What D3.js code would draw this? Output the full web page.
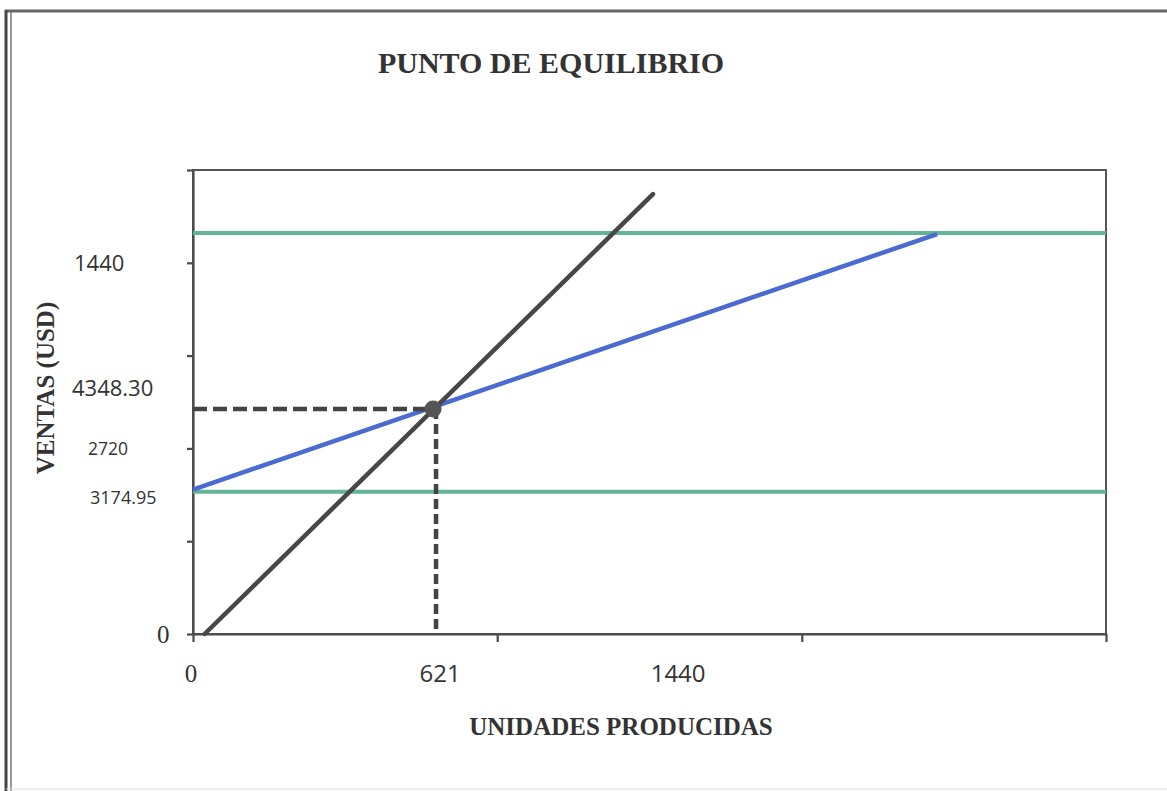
<!DOCTYPE html>
<html>
<head>
<meta charset="utf-8">
<script src="https://cdn.jsdelivr.net/npm/d3@7"></script>
<style>
  body { margin: 0; background: #fff; }
  svg { display: block; }
</style>
</head>
<body>
<div id="chart"></div>
<script>
// values (units on x, USD on y)
var xTicks = [0, 787, 1575, 2362];
var yTicks = [0, 1793, 3587, 5380, 7173, 8967];

var breakEven = [621, 4348.30];

var salesLine = [[30, 0], [1190, 8500]];          // dark line
var totalCostLine = [[0, 2790], [1925, 7730]];    // blue line
var upperLine = [[0, 7750], [2362, 7750]];        // green, top
var fixedCostLine = [[0, 2750], [2362, 2750]];    // green, bottom

var xLabelText = ["0", "621", "1440"];
var xLabelAt = [0, 621, 1255];
var yLabelText = ["1440", "4348.30", "2720", "3174.95", "0"];
var yLabelAt = [7173, 4750, 3587, 2630, 0];

var W = 1167, H = 791;
var margin = { top: 170, right: 61, bottom: 157, left: 193 };

var svg = d3.select('#chart')
    .append('svg')
    .attr('width', W)
    .attr('height', H);

// scanned page frame
svg.append('line').attr('x1', 5).attr('x2', W).attr('y1', 11).attr('y2', 11)
    .attr('stroke', '#666').attr('stroke-width', 3);
svg.append('line').attr('x1', 6).attr('x2', 6).attr('y1', 10).attr('y2', H)
    .attr('stroke', '#444').attr('stroke-width', 3);
svg.append('line').attr('x1', 11).attr('x2', 11).attr('y1', 12).attr('y2', H)
    .attr('stroke', '#777').attr('stroke-width', 1.5);
svg.append('line').attr('x1', 6).attr('x2', W).attr('y1', 789).attr('y2', 789)
    .attr('stroke', '#ddd').attr('stroke-width', 1);

var x = d3.scaleLinear()
    .domain([0, 2362])
    .range([margin.left, W - margin.right]);

var y = d3.scaleLinear()
    .domain([0, 8967])
    .range([H - margin.bottom, margin.top]);

// title
svg.append('text')
    .attr('x', 551)
    .attr('y', 73)
    .attr('text-anchor', 'middle')
    .style('font-family', '"Liberation Serif", "Times New Roman", serif')
    .style('font-weight', 'bold')
    .style('font-size', '30px')
    .style('fill', '#333')
    .text('PUNTO DE EQUILIBRIO');

// plot box (top and right edges)
svg.append('rect')
    .attr('x', x(0))
    .attr('y', y(8967))
    .attr('width', x(2362) - x(0))
    .attr('height', y(0) - y(8967))
    .attr('fill', 'none')
    .attr('stroke', '#555')
    .attr('stroke-width', 2);

var xAxis = svg.append('g')
    .attr('transform', 'translate(0,' + y(0) + ')')
    .call(d3.axisBottom(x).tickValues(xTicks).tickFormat('').tickSize(8).tickSizeOuter(0));

var yAxis = svg.append('g')
    .attr('transform', 'translate(' + x(0) + ',0)')
    .call(d3.axisLeft(y).tickValues(yTicks).tickFormat('').tickSize(6).tickSizeOuter(0));

svg.selectAll('.domain, .tick line')
    .attr('stroke', '#4a4a4a')
    .attr('stroke-width', 2.2);

var line = d3.line()
    .x(d => x(d[0]))
    .y(d => y(d[1]));

svg.append('path').datum(upperLine).attr('d', line)
    .attr('fill', 'none').attr('stroke', '#62b598').attr('stroke-width', 4);
svg.append('path').datum(fixedCostLine).attr('d', line)
    .attr('fill', 'none').attr('stroke', '#62b598').attr('stroke-width', 4);

svg.append('path').datum(totalCostLine).attr('d', line)
    .attr('fill', 'none').attr('stroke', '#4a6bd0').attr('stroke-width', 4.5);

svg.append('path').datum(salesLine).attr('d', line)
    .attr('fill', 'none').attr('stroke', '#474747').attr('stroke-width', 4.5)
    .attr('stroke-linecap', 'round');

// dashed guides to the break-even point
svg.append('line')
    .attr('x1', x(0)).attr('x2', x(breakEven[0]))
    .attr('y1', y(breakEven[1])).attr('y2', y(breakEven[1]))
    .attr('stroke', '#444').attr('stroke-width', 4.5)
    .attr('stroke-dasharray', '14,6');

svg.append('line')
    .attr('x1', x(breakEven[0]) + 3).attr('x2', x(breakEven[0]) + 3)
    .attr('y1', y(breakEven[1])).attr('y2', y(0))
    .attr('stroke', '#444').attr('stroke-width', 4.5)
    .attr('stroke-dasharray', '10,5');

svg.append('circle')
    .attr('cx', x(breakEven[0]))
    .attr('cy', y(breakEven[1]))
    .attr('r', 8.5)
    .attr('fill', '#555');

// axis labels (placed as in the picture)
var sansFont = '"Open Sans", "Liberation Sans", sans-serif';
var serifFont = '"Liberation Serif", "Times New Roman", serif';

var xLabelStyle = [
    { font: serifFont, size: 25, dx: -2 },
    { font: sansFont, size: 24, dx: 7 },
    { font: sansFont, size: 24, dx: 0 }
];

svg.append('g')
    .selectAll('text')
    .data(xLabelText)
    .join('text')
    .attr('x', (d, i) => x(xLabelAt[i]) + xLabelStyle[i].dx)
    .attr('y', 682)
    .attr('text-anchor', 'middle')
    .style('font-family', (d, i) => xLabelStyle[i].font)
    .style('font-size', (d, i) => xLabelStyle[i].size + 'px')
    .style('fill', '#333')
    .text(d => d);

var yLabelStyle = [
    { font: sansFont, size: 22, left: 74 },
    { font: sansFont, size: 22, left: 72 },
    { font: sansFont, size: 17.5, left: 88 },
    { font: sansFont, size: 18, left: 90 },
    { font: serifFont, size: 25, left: 157 }
];

svg.append('g')
    .selectAll('text')
    .data(yLabelText)
    .join('text')
    .attr('x', (d, i) => yLabelStyle[i].left)
    .attr('y', (d, i) => y(yLabelAt[i]))
    .attr('dy', '0.35em')
    .style('font-family', (d, i) => yLabelStyle[i].font)
    .style('font-size', (d, i) => yLabelStyle[i].size + 'px')
    .style('fill', '#333')
    .text(d => d);

// axis titles
svg.append('text')
    .attr('x', 621)
    .attr('y', 735)
    .attr('text-anchor', 'middle')
    .style('font-family', serifFont)
    .style('font-weight', 'bold')
    .style('font-size', '25px')
    .style('fill', '#333')
    .text('UNIDADES PRODUCIDAS');

svg.append('text')
    .attr('transform', 'translate(54,388) rotate(-90)')
    .attr('text-anchor', 'middle')
    .style('font-family', serifFont)
    .style('font-weight', 'bold')
    .style('font-size', '25px')
    .style('fill', '#333')
    .text('VENTAS (USD)');
</script>
</body>
</html>
